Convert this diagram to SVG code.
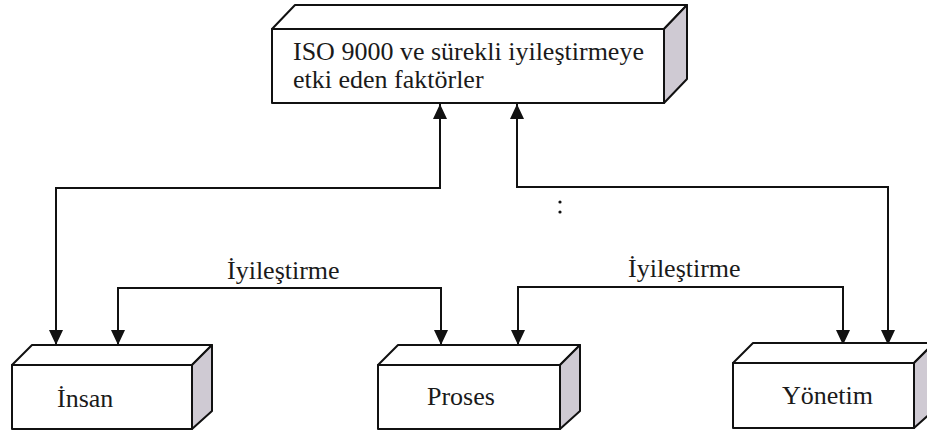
<svg xmlns="http://www.w3.org/2000/svg" width="927" height="437" viewBox="0 0 927 437">
  <defs>
    <style>
      .face{fill:#ffffff;stroke:#111;stroke-width:2;stroke-linejoin:round}
      .side{fill:#cfcad3;stroke:#111;stroke-width:2;stroke-linejoin:round}
      .lbl{font-family:"Liberation Serif","Times New Roman",serif;font-size:26px;fill:#1a1a1a}
      .conn{fill:none;stroke:#111;stroke-width:2}
    </style>
    <marker id="ah" markerUnits="userSpaceOnUse" markerWidth="16" markerHeight="16" viewBox="0 0 16 16" refX="15" refY="8" orient="auto-start-reverse">
      <path d="M0,1 L15,8 L0,15 Z" fill="#111"/>
    </marker>
  </defs>
  <rect width="927" height="437" fill="#ffffff"/>

  <g id="connectors">
    <path class="conn" d="M440,104 V188 H56 V345" marker-start="url(#ah)" marker-end="url(#ah)"/>
    <path class="conn" d="M517,104 V187 H888 V345" marker-start="url(#ah)" marker-end="url(#ah)"/>
    <path class="conn" d="M118,345 V288 H441 V345" marker-start="url(#ah)" marker-end="url(#ah)"/>
    <path class="conn" d="M518,345 V287 H843 V345" marker-start="url(#ah)" marker-end="url(#ah)"/>
    <text class="lbl" x="227" y="279">İyileştirme</text>
    <text class="lbl" x="628" y="277">İyileştirme</text>
    <circle cx="560" cy="202" r="1.6" fill="#111"/>
    <circle cx="560" cy="212" r="1.6" fill="#111"/>
  </g>

  <g id="factors">
    <polygon class="face" points="272,29 295,5 687,5 664,29"/>
    <polygon class="side" points="664,29 687,5 687,79 664,103"/>
    <rect class="face" x="272" y="29" width="392" height="74"/>
    <text class="lbl" x="293" y="60">ISO 9000 ve sürekli iyileştirmeye</text>
    <text class="lbl" x="293" y="88">etki eden faktörler</text>
  </g>

  <g id="insan">
    <polygon class="face" points="12,365 32,345 212,345 192,365"/>
    <polygon class="side" points="192,365 212,345 212,411 192,429"/>
    <rect class="face" x="12" y="365" width="180" height="64"/>
    <text class="lbl" x="57" y="407">İnsan</text>
  </g>

  <g id="proses">
    <polygon class="face" points="378,365 398,345 580,345 560,365"/>
    <polygon class="side" points="560,365 580,345 580,411 560,429"/>
    <rect class="face" x="378" y="365" width="182" height="64"/>
    <text class="lbl" x="427" y="405">Proses</text>
  </g>

  <g id="yonetim">
    <polygon class="face" points="733,363 753,343 934,343 914,363"/>
    <polygon class="side" points="914,363 934,343 934,410 914,428"/>
    <rect class="face" x="733" y="363" width="181" height="65"/>
    <text class="lbl" x="782" y="404">Yönetim</text>
  </g>
</svg>
